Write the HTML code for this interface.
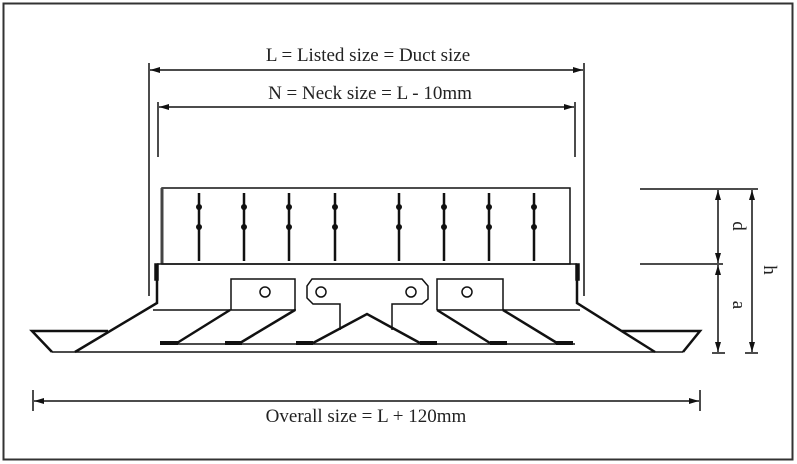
<!DOCTYPE html>
<html><head><style>html,body{margin:0;padding:0;background:#fff}svg{display:block}</style></head><body>
<svg width="797" height="464" viewBox="0 0 797 464" xmlns="http://www.w3.org/2000/svg">
<defs>
<marker id="a" viewBox="0 0 10 6" refX="10" refY="3" markerWidth="10" markerHeight="6" orient="auto-start-reverse" markerUnits="userSpaceOnUse"><path d="M0,0 L10,3 L0,6z" fill="#111"/></marker>
</defs>
<rect x="3.5" y="3.5" width="789" height="456" fill="none" stroke="#333" stroke-width="2"/>
<g stroke="#111" stroke-width="1.5" fill="none">
<line x1="150" y1="70" x2="583" y2="70" marker-start="url(#a)" marker-end="url(#a)"/>
<line x1="149" y1="63" x2="149" y2="296"/>
<line x1="584" y1="63" x2="584" y2="296"/>
<line x1="159" y1="107" x2="574" y2="107" marker-start="url(#a)" marker-end="url(#a)"/>
<line x1="158" y1="102" x2="158" y2="157"/>
<line x1="575" y1="102" x2="575" y2="157"/>
<rect x="162" y="188" width="408" height="76"/>
<line x1="162" y1="188" x2="162" y2="264" stroke-width="3" stroke="#444"/>
<line x1="157" y1="264" x2="577" y2="264"/>
<rect x="155" y="264" width="3" height="16" fill="#222"/>
<rect x="576" y="264" width="3" height="16" fill="#222"/>
<g stroke-width="2.5">
<line x1="199" y1="193" x2="199" y2="261"/><line x1="244" y1="193" x2="244" y2="261"/>
<line x1="289" y1="193" x2="289" y2="261"/><line x1="335" y1="193" x2="335" y2="261"/>
<line x1="399" y1="193" x2="399" y2="261"/><line x1="444" y1="193" x2="444" y2="261"/>
<line x1="489" y1="193" x2="489" y2="261"/><line x1="534" y1="193" x2="534" y2="261"/>
</g>
<g fill="#111" stroke="none">
<circle cx="199" cy="207" r="3"/><circle cx="199" cy="227" r="3"/>
<circle cx="244" cy="207" r="3"/><circle cx="244" cy="227" r="3"/>
<circle cx="289" cy="207" r="3"/><circle cx="289" cy="227" r="3"/>
<circle cx="335" cy="207" r="3"/><circle cx="335" cy="227" r="3"/>
<circle cx="399" cy="207" r="3"/><circle cx="399" cy="227" r="3"/>
<circle cx="444" cy="207" r="3"/><circle cx="444" cy="227" r="3"/>
<circle cx="489" cy="207" r="3"/><circle cx="489" cy="227" r="3"/>
<circle cx="534" cy="207" r="3"/><circle cx="534" cy="227" r="3"/>
</g>
<polyline points="157,264 157,303 75,352" stroke-width="2.5"/>
<polyline points="577,264 577,303 655,352" stroke-width="2.5"/>
<line x1="153" y1="310" x2="296" y2="310"/>
<line x1="437" y1="310" x2="580" y2="310"/>
<polyline points="231,310 231,279 295,279 295,310"/>
<polyline points="437,310 437,279 503,279 503,310"/>
<circle cx="265" cy="292" r="5"/><circle cx="467" cy="292" r="5"/>
<path d="M340,330 L340,304 L313,304 L307,298 L307,286 L312,279 L422,279 L428,286 L428,299 L422,304 L392,304 L392,330"/>
<circle cx="321" cy="292" r="5"/><circle cx="411" cy="292" r="5"/>
<g stroke-width="2.5">
<line x1="230" y1="310" x2="177" y2="343"/><line x1="295" y1="310" x2="240" y2="343"/>
<polyline points="313,343 367,314 420,343"/>
<line x1="437" y1="310" x2="490" y2="343"/><line x1="503" y1="310" x2="557" y2="343"/>
</g>
<line x1="160" y1="344" x2="575" y2="344"/>
<g stroke-width="4">
<line x1="160" y1="343" x2="178" y2="343"/><line x1="225" y1="343" x2="242" y2="343"/>
<line x1="296" y1="343" x2="313" y2="343"/><line x1="420" y1="343" x2="437" y2="343"/>
<line x1="490" y1="343" x2="507" y2="343"/><line x1="556" y1="343" x2="573" y2="343"/>
</g>
<line x1="52" y1="352" x2="683" y2="352"/>
<polyline points="108,331 32,331 52,352" stroke-width="2.5"/>
<polyline points="622,331 700,331 683,352" stroke-width="2.5"/>
<line x1="640" y1="189" x2="758" y2="189"/>
<line x1="640" y1="264" x2="723" y2="264"/>
<line x1="718" y1="190" x2="718" y2="263" marker-start="url(#a)" marker-end="url(#a)"/>
<line x1="718" y1="265" x2="718" y2="352" marker-start="url(#a)" marker-end="url(#a)"/>
<line x1="752" y1="190" x2="752" y2="352" marker-start="url(#a)" marker-end="url(#a)"/>
<line x1="712" y1="353" x2="725" y2="353"/><line x1="745" y1="353" x2="758" y2="353"/>
<line x1="34" y1="401" x2="699" y2="401" marker-start="url(#a)" marker-end="url(#a)"/>
<line x1="33" y1="390" x2="33" y2="411"/>
<line x1="700" y1="390" x2="700" y2="411"/>
</g>
<g font-family="Liberation Serif, serif" font-size="19" fill="#222" text-anchor="middle">
<text x="368" y="61">L = Listed size = Duct size</text>
<text x="370" y="99">N = Neck size = L - 10mm</text>
<text x="366" y="422">Overall size = L + 120mm</text>
<text transform="translate(733,226) rotate(90)" x="0" y="0">d</text>
<text transform="translate(733,305) rotate(90)" x="0" y="0">a</text>
<text transform="translate(764,270) rotate(90)" x="0" y="0">h</text>
</g>
</svg>
</body></html>
